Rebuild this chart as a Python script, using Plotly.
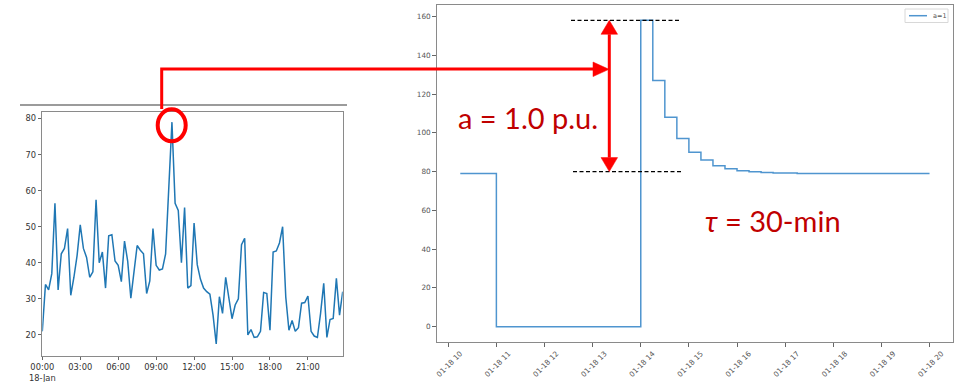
import plotly.graph_objects as go
import pandas as pd

W, H = 959, 382

# ---------------- data ----------------
# left panel: 15-min load profile on 18-Jan
left_values = [
    21, 34, 32.5, 37, 56.5, 32.5, 42.5, 44, 49.5, 31, 36, 42,
    50.5, 44, 41.5, 36, 37.5, 57.5, 40, 43, 33, 47.5, 47.8, 40.5,
    39.3, 34.8, 46, 40.5, 30.2, 37, 44.8, 43.5, 42.5, 31.5, 35, 49.5,
    39.3, 38, 38.3, 42.5, 61, 79, 56.5, 54.5, 40, 55.3, 33, 33.7,
    51, 39.5, 35.5, 33, 32, 31.3, 25.5, 17.5, 30.6, 26, 36, 30.5,
    24.5, 28.3, 30, 45, 46.8, 20, 21.5, 19.3, 19.5, 21, 31.8, 31.5,
    21.3, 43, 43.3, 45.5, 50, 30.5, 21.3, 24, 21, 22, 28.8, 29,
    30.8, 21, 19.7, 19.3, 26, 34.3, 19.3, 24.3, 24.6, 35.7, 25.5, 32,
]
left_times = pd.date_range("2020-01-18 00:00", periods=len(left_values), freq="15min")
left_tick_times = pd.date_range("2020-01-18 00:00", "2020-01-18 21:00", freq="3h")
left_tick_labels = ["00:00<br>18-Jan", "03:00", "06:00", "09:00", "12:00", "15:00", "18:00", "21:00"]
left_y_ticks = [20, 30, 40, 50, 60, 70, 80]

# right panel: step response a=1 (15-min steps)
right_values = (
    [79, 79, 79]
    + [0] * 12
    + [158, 127, 108, 97, 90, 86, 83, 81.4, 80.4, 79.9, 79.5, 79.3, 79.2]
    + [79] * 12
)
right_times = pd.date_range("2020-01-18 10:15", periods=len(right_values), freq="15min")
right_tick_times = pd.date_range("2020-01-18 10:00", "2020-01-18 20:00", freq="1h")
right_tick_labels = [f"01-18 {t.hour}" for t in right_tick_times]
right_y_ticks = [0, 20, 40, 60, 80, 100, 120, 140, 160]
series_name = "a=1"
series_color = "#4f95cf"


def X(px):
    return px / W


def Y(py):
    return 1 - py / H


fig = go.Figure()
fig.add_trace(go.Scatter(x=left_times, y=left_values, mode="lines",
                         line=dict(color="#1f77b4", width=1.5),
                         xaxis="x", yaxis="y", showlegend=False))
fig.add_trace(go.Scatter(x=right_times, y=right_values, mode="lines",
                         line=dict(color=series_color, width=1.5, shape="hv"),
                         xaxis="x2", yaxis="y2", name=series_name, showlegend=False))

axis_common = dict(showline=True, mirror=True, linecolor="#8a8a8a", linewidth=1,
                   ticks="outside", ticklen=3.5, tickcolor="#666",
                   showgrid=False, zeroline=False, automargin=False)

fig.update_layout(
    width=W, height=H, autosize=False,
    margin=dict(l=0, r=0, t=0, b=0, pad=0, autoexpand=False),
    paper_bgcolor="white", plot_bgcolor="white",
    font=dict(family="DejaVu Sans"),
    showlegend=False,
    xaxis=dict(domain=[X(42.3), X(342.7)], anchor="y", type="date",
               range=[left_times[0], left_times[-1]],
               tickvals=list(left_tick_times), ticktext=left_tick_labels,
               tickfont=dict(size=8.3, color="#333"), **axis_common),
    yaxis=dict(domain=[Y(355.7), Y(111.7)], anchor="x", range=[14.25, 81.9],
               tickvals=left_y_ticks, tickfont=dict(size=8.3, color="#333"), **axis_common),
    xaxis2=dict(domain=[X(436.7), X(953)], anchor="y2", type="date",
                range=["2020-01-18 09:45:36", "2020-01-18 20:29:15"],
                tickvals=list(right_tick_times), ticktext=right_tick_labels,
                tickangle=-45, ticklabelshift=12,
                tickfont=dict(size=7.3, color="#555"), **axis_common),
    yaxis2=dict(domain=[Y(342), Y(5)], anchor="x2", range=[-7.9, 165.9],
                tickvals=right_y_ticks, tickfont=dict(size=7.3, color="#555"), **axis_common),
)

red = "#ff0000"
peak_hi, peak_lo = 158, 80
head_h = 7.2  # in y2 units (~14 px)
shapes = [
    # gray rule above left panel
    dict(type="line", xref="paper", yref="paper", x0=X(20), x1=X(347), y0=Y(105), y1=Y(105),
         line=dict(color="#7a7a7a", width=1.5)),
    # red circle around peak
    dict(type="circle", xref="paper", yref="paper", x0=X(157.7), x1=X(185.7),
         y0=Y(141.3), y1=Y(109.3), line=dict(color=red, width=4)),
    # red connector
    dict(type="path", xref="paper", yref="paper",
         path=f"M {X(161.7)},{Y(109)} L {X(161.7)},{Y(69)} L {X(594)},{Y(69)}",
         line=dict(color=red, width=3)),
    dict(type="path", xref="paper", yref="paper",
         path=f"M {X(593)},{Y(62)} L {X(609)},{Y(69.3)} L {X(593)},{Y(76.6)} Z",
         fillcolor=red, line=dict(color=red, width=0.5)),
    # dashed reference lines
    dict(type="line", xref="paper", yref="y2", x0=X(571), x1=X(680), y0=peak_hi, y1=peak_hi,
         line=dict(color="black", width=1.2, dash="4px,2.5px")),
    dict(type="line", xref="paper", yref="y2", x0=X(573), x1=X(682), y0=peak_lo, y1=peak_lo,
         line=dict(color="black", width=1.2, dash="4px,2.5px")),
    # vertical double arrow
    dict(type="line", xref="paper", yref="y2", x0=X(609.3), x1=X(609.3),
         y0=peak_lo + head_h, y1=peak_hi - head_h, line=dict(color=red, width=3)),
    dict(type="path", xref="paper", yref="y2",
         path=f"M {X(601)},{peak_hi - head_h} L {X(609.3)},{peak_hi} L {X(617.6)},{peak_hi - head_h} Z",
         fillcolor=red, line=dict(color=red, width=0.5)),
    dict(type="path", xref="paper", yref="y2",
         path=f"M {X(601)},{peak_lo + head_h} L {X(609.3)},{peak_lo} L {X(617.6)},{peak_lo + head_h} Z",
         fillcolor=red, line=dict(color=red, width=0.5)),
    # legend box for the right panel
    dict(type="rect", xref="paper", yref="paper", x0=X(905), x1=X(948), y0=Y(22.5), y1=Y(9),
         fillcolor="white", line=dict(color="#d8d8d8", width=1)),
    dict(type="line", xref="paper", yref="paper", x0=X(909), x1=X(927), y0=Y(15.7), y1=Y(15.7),
         line=dict(color=series_color, width=1.5)),
]
fig.update_layout(shapes=shapes)

fig.add_annotation(xref="paper", yref="paper", x=X(931), y=Y(15.7), text=series_name,
                   showarrow=False, xanchor="left", yanchor="middle",
                   font=dict(size=6.5, color="#555"))
fig.add_annotation(xref="paper", yref="paper", x=X(528), y=Y(117), text="a = 1.0 p.u.",
                   showarrow=False, xanchor="center", yanchor="middle",
                   font=dict(family="Lato", size=29, color="#c00000"))
fig.add_annotation(xref="paper", yref="paper", x=X(773), y=Y(220), text="<i>τ</i> = 30-min",
                   showarrow=False, xanchor="center", yanchor="middle",
                   font=dict(family="Lato", size=29, color="#c00000"))

fig.write_html(
    "out.html",
    config={"displayModeBar": False},
    post_script="document.body.style.margin='0';document.body.style.padding='0';"
                "document.body.style.overflow='hidden';",
)
